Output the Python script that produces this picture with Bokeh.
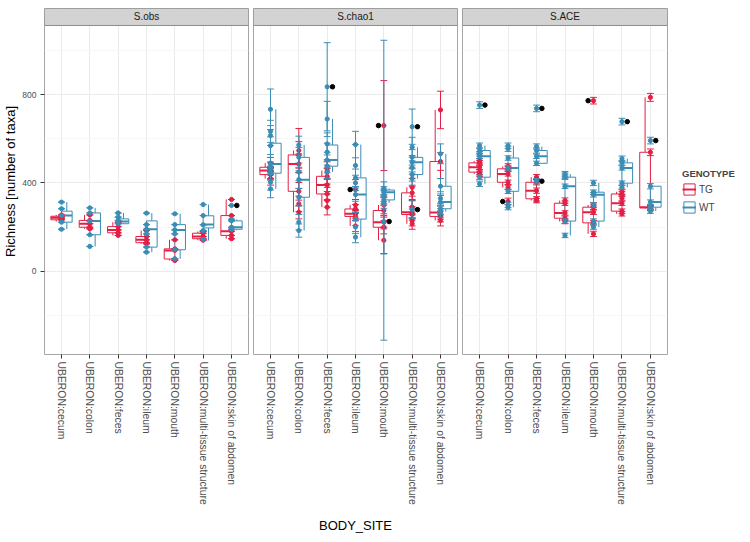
import math
from bokeh.plotting import figure
from bokeh.models import Range1d, FixedTicker, Legend, LegendItem, ColumnDataSource, Label
from bokeh.layouts import row
from bokeh.embed import file_html
from bokeh.resources import INLINE

# ---------------- data ----------------
sites = ["UBERON:cecum", "UBERON:colon", "UBERON:feces", "UBERON:ileum",
         "UBERON:mouth", "UBERON:multi-tissue structure", "UBERON:skin of abdomen"]
facets = ["S.obs", "S.chao1", "S.ACE"]
genotypes = ["TG", "WT"]
y_ticks = [0, 400, 800]
y_minor = [-200, 200, 600, 1000]

# box stats per site: (lower whisker, q1, median, q3, upper whisker)
obs_tg_box = [(225, 233, 242, 249, 255), (192, 199, 215, 230, 255), (162, 174, 187, 202, 222),
              (124, 129, 142, 157, 184), (48, 55, 94, 101, 142), (140, 147, 157, 172, 180),
              (147, 162, 181, 252, 325)]
obs_wt_box = [(190, 222, 252, 272, 313), (112, 165, 227, 264, 287), (215, 215, 225, 237, 264),
              (86, 109, 190, 228, 263), (56, 97, 187, 211, 260), (139, 196, 211, 251, 302),
              (185, 190, 199, 228, 235)]
chao_tg_box = [(420, 438, 456, 471, 490), (267, 362, 486, 527, 547), (290, 350, 391, 430, 456),
               (205, 248, 260, 282, 300), (140, 199, 222, 275, 300), (215, 257, 267, 355, 380),
               (230, 248, 266, 497, 731)]
chao_wt_box = [(373, 444, 486, 580, 734), (184, 335, 415, 516, 572), (450, 476, 504, 572, 690),
               (154, 236, 347, 423, 574), (310, 323, 358, 368, 375), (420, 438, 494, 516, 562),
               (270, 283, 313, 385, 532)]
ace_tg_box = [(440, 449, 471, 491, 500), (380, 403, 441, 464, 475), (320, 328, 365, 403, 426),
              (225, 240, 264, 308, 320), (169, 219, 267, 290, 300), (260, 272, 308, 350, 360),
              (284, 287, 290, 539, 788)]
ace_wt_box = [(396, 426, 521, 547, 569), (290, 362, 468, 513, 569), (489, 489, 521, 547, 565),
              (162, 227, 385, 426, 440), (200, 227, 346, 358, 400), (380, 399, 468, 491, 510),
              (272, 290, 313, 385, 385)]

# sample richness values per site
obs_tg_pts = [[236, 242, 249, 255, 233], [255, 230, 215, 199, 192], [222, 202, 187, 174, 162],
              [184, 157, 142, 129, 124], [142, 101, 94, 55, 48], [180, 172, 157, 147, 140],
              [325, 252, 181, 162, 147]]
obs_wt_pts = [[313, 283, 252, 222, 190], [287, 264, 227, 165, 112], [264, 245, 230, 215],
              [263, 211, 190, 169, 109, 86], [260, 211, 187, 169, 97, 56], [302, 252, 210, 184, 144],
              [298, 235, 228, 199, 190]]
chao_tg_pts = [[490, 471, 456, 445, 438, 420], [547, 527, 486, 362, 305, 267], [456, 430, 391, 350, 320, 290],
               [370, 300, 282, 260, 248, 205], [660, 300, 275, 222, 199, 140], [380, 355, 290, 267, 257, 230, 215],
               [731, 497, 266, 248, 230]]
chao_wt_pts = [[734, 634, 615, 569, 486, 470, 444, 403, 373], [572, 516, 450, 415, 335, 222, 184],
               [836, 690, 577, 540, 504, 476, 450], [574, 479, 423, 400, 347, 236, 200, 154],
               [375, 367, 358, 340, 323, 310, 225], [655, 562, 516, 494, 470, 438, 420, 279],
               [532, 385, 330, 313, 283, 270]]
ace_tg_pts = [[500, 491, 471, 449, 440], [475, 464, 441, 403, 380, 316], [426, 403, 365, 328, 320],
              [320, 308, 264, 240, 225], [773, 300, 290, 267, 219, 169], [360, 350, 330, 308, 272, 260],
              [788, 539, 290, 287, 284]]
ace_wt_pts = [[753, 569, 547, 532, 521, 426, 396], [569, 555, 513, 468, 362, 300, 290],
              [738, 565, 547, 521, 489, 408], [440, 433, 426, 385, 227, 162],
              [400, 358, 346, 300, 227, 200], [678, 510, 491, 468, 399, 380], [592, 385, 313, 290, 272]]

# standard errors of the estimates (S.obs has none)
obs_tg_se = [[0, 0, 0, 0, 0], [0, 0, 0, 0, 0], [0, 0, 0, 0, 0], [0, 0, 0, 0, 0], [0, 0, 0, 0, 0],
             [0, 0, 0, 0, 0], [0, 0, 0, 0, 0]]
obs_wt_se = [[0, 0, 0, 0, 0], [0, 0, 0, 0, 0], [0, 0, 0, 0], [0, 0, 0, 0, 0, 0], [0, 0, 0, 0, 0, 0],
             [0, 0, 0, 0, 0], [0, 0, 0, 0, 0]]
chao_tg_se = [[25, 20, 20, 25, 20, 30], [100, 60, 40, 40, 35, 30], [40, 35, 30, 30, 30, 35],
              [45, 25, 20, 20, 20, 25], [204, 40, 30, 30, 30, 60], [40, 30, 30, 25, 25, 25, 25],
              [85, 40, 30, 25, 25]]
chao_wt_se = [[92, 50, 45, 40, 30, 25, 30, 35, 40], [40, 45, 40, 40, 40, 35, 30],
              [200, 80, 50, 40, 35, 30, 30], [60, 95, 40, 35, 30, 30, 30, 25],
              [30, 680, 25, 25, 25, 25, 147], [80, 45, 35, 30, 30, 30, 30, 40],
              [45, 35, 30, 30, 25, 25]]
ace_tg_se = [[10, 10, 10, 10, 10], [12, 10, 10, 10, 10, 15], [12, 12, 12, 10, 10],
             [12, 10, 10, 10, 10], [15, 10, 10, 10, 10, 12], [12, 12, 12, 10, 10, 10],
             [18, 15, 10, 10, 10]]
ace_wt_se = [[15, 12, 12, 10, 10, 10, 12], [12, 12, 10, 10, 10, 12, 12], [15, 12, 12, 10, 10, 12],
             [12, 12, 10, 10, 10, 10], [12, 10, 10, 10, 10, 10], [15, 12, 10, 10, 10, 10],
             [15, 12, 10, 10, 10]]

# boxplot outliers
obs_tg_out = [[], [], [], [], [], [], []]
obs_wt_out = [[], [], [], [], [], [], [298]]
chao_tg_out = [[], [], [], [370], [660], [], []]
chao_wt_out = [[], [], [836], [], [225], [655, 279], []]
ace_tg_out = [[], [316], [], [], [773], [], []]
ace_wt_out = [[753], [], [738, 408], [], [], [678], [592]]

# ---------------- style ----------------
FONT = "Liberation Sans"
COLORS = {"TG": "#E41F45", "WT": "#3A8DB5"}
DODGE = {"TG": -0.1875, "WT": 0.1875}
HALF = 0.1875
CAP = 0.12
Y_LO, Y_HI = -378, 1114
STRIP_TOP = 1191
X_LO, X_HI = 0.4, 7.6
pos = list(range(1, len(sites) + 1))


def make_panel(name, boxes, pts, ses, outs, ml, mr, fw, ylab, xlab):
    p = figure(frame_width=fw, frame_height=346,
               x_range=Range1d(X_LO, X_HI), y_range=Range1d(Y_LO, STRIP_TOP),
               output_backend="svg", toolbar_location=None,
               min_border_top=8, min_border_bottom=0,
               min_border_left=ml, min_border_right=mr)
    p.background_fill_color = "white"
    p.border_fill_color = "white"
    p.outline_line_color = "#a6a6a6"

    # grid
    p.xgrid.ticker = FixedTicker(ticks=pos)
    p.ygrid.ticker = FixedTicker(ticks=y_ticks, minor_ticks=y_minor)
    p.xgrid.grid_line_color = "#ebebeb"
    p.ygrid.grid_line_color = "#ebebeb"
    p.ygrid.minor_grid_line_color = "#f7f7f7"

    # x axis
    ax = p.xaxis[0]
    ax.ticker = FixedTicker(ticks=pos)
    ax.major_label_overrides = {i: s for i, s in zip(pos, sites)}
    ax.major_label_orientation = -math.pi / 2
    ax.major_label_text_font = FONT
    ax.major_label_text_font_size = "10.4px"
    ax.major_label_text_color = "#4d4d4d"
    ax.major_label_standoff = 3
    ax.major_tick_in = 0
    ax.major_tick_out = 4
    ax.major_tick_line_color = "#333333"
    ax.minor_tick_line_color = None
    ax.axis_line_color = None
    if xlab:
        ax.axis_label = xlab
        ax.axis_label_text_font = FONT
        ax.axis_label_text_font_size = "13px"
        ax.axis_label_text_font_style = "normal"
        ax.axis_label_text_color = "#000000"
        ax.axis_label_standoff = 10

    # y axis
    yax = p.yaxis[0]
    if ylab:
        yax.ticker = FixedTicker(ticks=y_ticks)
        yax.axis_label = ylab
        yax.axis_label_text_font = FONT
        yax.axis_label_text_font_size = "13px"
        yax.axis_label_text_font_style = "normal"
        yax.axis_label_text_color = "#000000"
        yax.axis_label_standoff = 1
        yax.major_label_text_font = FONT
        yax.major_label_text_font_size = "8.5px"
        yax.major_label_text_color = "#4d4d4d"
        yax.major_label_standoff = 4
        yax.major_tick_in = 0
        yax.major_tick_out = 4
        yax.major_tick_line_color = "#333333"
        yax.minor_tick_line_color = None
        yax.axis_line_color = None
    else:
        yax.visible = False

    # facet strip
    p.quad(left=[X_LO], right=[X_HI], bottom=[Y_HI], top=[STRIP_TOP],
           fill_color="#d3d3d3", line_color="#8c8c8c", line_width=1)
    p.add_layout(Label(x=(X_LO + X_HI) / 2, y=(Y_HI + STRIP_TOP) / 2, text=name,
                       text_align="center", text_baseline="middle",
                       text_font=FONT, text_font_size="10px", text_color="#1a1a1a"))

    legend_parts = {}
    # boxplots
    for g in genotypes:
        c = COLORS[g]
        b = boxes[g]
        xs = [i + DODGE[g] for i in pos]
        src = ColumnDataSource(dict(
            x=xs, left=[x - HALF for x in xs], right=[x + HALF for x in xs],
            lo=[v[0] for v in b], q1=[v[1] for v in b], med=[v[2] for v in b],
            q3=[v[3] for v in b], hi=[v[4] for v in b]))
        p.segment(x0="x", y0="q3", x1="x", y1="hi", source=src, line_color=c, line_width=1)
        p.segment(x0="x", y0="q1", x1="x", y1="lo", source=src, line_color=c, line_width=1)
        rb = p.quad(left="left", right="right", bottom="q1", top="q3", source=src,
                    fill_color="white", line_color=c, line_width=1)
        rm = p.segment(x0="left", y0="med", x1="right", y1="med", source=src,
                       line_color=c, line_width=2)
        legend_parts[g] = [rb, rm]

    # error bars and points
    for g in genotypes:
        c = COLORS[g]
        px, py, lo, hi, cl, cr = [], [], [], [], [], []
        for i, vals, ss in zip(pos, pts[g], ses[g]):
            for v, s in zip(vals, ss):
                px.append(i)
                py.append(v)
                lo.append(v - s)
                hi.append(v + s)
                cl.append(i - CAP)
                cr.append(i + CAP)
        src = ColumnDataSource(dict(x=px, y=py, lo=lo, hi=hi, cl=cl, cr=cr))
        p.segment(x0="x", y0="lo", x1="x", y1="hi", source=src, line_color=c, line_width=1)
        p.segment(x0="cl", y0="lo", x1="cr", y1="lo", source=src, line_color=c, line_width=1)
        p.segment(x0="cl", y0="hi", x1="cr", y1="hi", source=src, line_color=c, line_width=1)
        p.scatter(x="x", y="y", source=src, size=4.2, fill_color=c, line_color=c)

    # outliers
    for g in genotypes:
        ox, oy = [], []
        for i, vals in zip(pos, outs[g]):
            for v in vals:
                ox.append(i + DODGE[g])
                oy.append(v)
        p.scatter(x=ox, y=oy, size=4.5, fill_color="black", line_color="black")
    return p, legend_parts


p1, _ = make_panel(facets[0], {"TG": obs_tg_box, "WT": obs_wt_box},
                   {"TG": obs_tg_pts, "WT": obs_wt_pts}, {"TG": obs_tg_se, "WT": obs_wt_se},
                   {"TG": obs_tg_out, "WT": obs_wt_out}, 44, 2, 204,
                   "Richness [number of taxa]", None)
p2, _ = make_panel(facets[1], {"TG": chao_tg_box, "WT": chao_wt_box},
                   {"TG": chao_tg_pts, "WT": chao_wt_pts}, {"TG": chao_tg_se, "WT": chao_wt_se},
                   {"TG": chao_tg_out, "WT": chao_wt_out}, 3, 2, 204, None, "BODY_SITE")
p3, parts = make_panel(facets[2], {"TG": ace_tg_box, "WT": ace_wt_box},
                       {"TG": ace_tg_pts, "WT": ace_wt_pts}, {"TG": ace_tg_se, "WT": ace_wt_se},
                       {"TG": ace_tg_out, "WT": ace_wt_out}, 3, 70, 205, None, None)

legend = Legend(items=[LegendItem(label=g, renderers=parts[g]) for g in genotypes],
                title="GENOTYPE", location=(15, 140))
legend.title_text_font = FONT
legend.title_text_font_style = "bold"
legend.title_text_font_size = "9.5px"
legend.title_standoff = 3
legend.label_text_font = FONT
legend.label_text_font_size = "10px"
legend.label_standoff = 3
legend.glyph_width = 14
legend.glyph_height = 14
legend.spacing = 4
legend.padding = 4
legend.margin = 0
legend.border_line_color = None
legend.background_fill_alpha = 0
p3.add_layout(legend, "right")

layout = row(p1, p2, p3)
open("out.html", "w").write(file_html(layout, INLINE))
